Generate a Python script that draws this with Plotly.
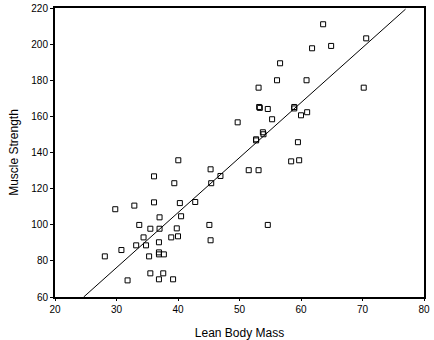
import numpy as np
import plotly.graph_objects as go

lean_body_mass = [
    49.7, 40.05, 45.3, 46.9, 36.1, 39.4, 45.4, 29.8, 32.9, 36.1, 40.3, 42.8,
    37.0, 40.5, 33.7, 45.1, 35.5, 37.0, 39.8, 34.4, 38.9, 40.0, 45.3, 36.9,
    33.2, 34.8, 30.8, 28.1, 35.3, 36.9, 36.9, 37.7, 35.5, 37.6, 31.8, 36.9,
    39.2,
    63.6, 70.6, 61.8, 64.9, 56.6, 56.1, 60.9, 53.1, 70.2, 53.2, 53.3, 54.6,
    58.9, 58.9, 55.3, 60.0, 61.0, 53.8, 53.9, 52.7, 52.7, 59.5, 58.4, 59.7,
    51.5, 53.1, 54.6,
]
muscle_strength = [
    156.7, 135.7, 130.7, 127.0, 126.8, 123.0, 123.0, 108.6, 110.6, 112.4, 112.0, 112.6,
    104.1, 104.7, 99.9, 99.9, 97.8, 97.8, 98.0, 93.0, 93.0, 93.6, 91.4, 90.3,
    88.6, 88.6, 86.0, 82.5, 82.5, 84.7, 83.6, 83.6, 73.1, 73.1, 69.2, 69.8,
    69.8,
    211.0, 203.2, 197.7, 199.0, 189.4, 180.0, 180.0, 175.9, 175.9, 165.2, 164.7, 164.1,
    165.2, 164.4, 158.4, 160.6, 162.3, 151.2, 150.1, 147.3, 146.7, 145.7, 135.1, 135.7,
    130.2, 130.2, 99.9,
]

x_ticks = [20, 30, 40, 50, 60, 70, 80]
y_ticks = [60, 80, 100, 120, 140, 160, 180, 200, 220]

# least-squares fit line
slope, intercept = np.polyfit(lean_body_mass, muscle_strength, 1)
fit_x = np.array([(60 - intercept) / slope, 77.0])
fit_y = intercept + slope * fit_x

fig = go.Figure()
fig.add_trace(go.Scatter(
    x=fit_x, y=fit_y, mode="lines",
    line=dict(color="black", width=1), hoverinfo="skip", showlegend=False,
))
fig.add_trace(go.Scatter(
    x=lean_body_mass, y=muscle_strength, mode="markers",
    marker=dict(symbol="square-open", size=5, color="black", line=dict(width=1)),
    showlegend=False,
))

font = "Liberation Sans, Arial, sans-serif"
fig.update_layout(
    width=434, height=340,
    margin=dict(l=55, r=10, t=8, b=43, autoexpand=False),
    paper_bgcolor="white", plot_bgcolor="white",
    font=dict(family=font, color="black", size=10),
    xaxis=dict(
        range=[20, 80], tickvals=x_ticks, showgrid=False, zeroline=False,
        showline=True, linecolor="black", linewidth=2, mirror=True,
        ticks="outside", ticklen=2, tickcolor="black", automargin=False,
        tickfont=dict(size=10),
        title=dict(text="Lean Body Mass", font=dict(size=12), standoff=26),
    ),
    yaxis=dict(
        range=[60, 220], tickvals=y_ticks, showgrid=False, zeroline=False,
        showline=True, linecolor="black", linewidth=2, mirror=True,
        ticks="outside", ticklen=3, tickcolor="black", automargin=False,
        tickfont=dict(size=10),
        title=dict(text="Muscle Strength", font=dict(size=12), standoff=10),
    ),
)

fig.write_html("out.html")
